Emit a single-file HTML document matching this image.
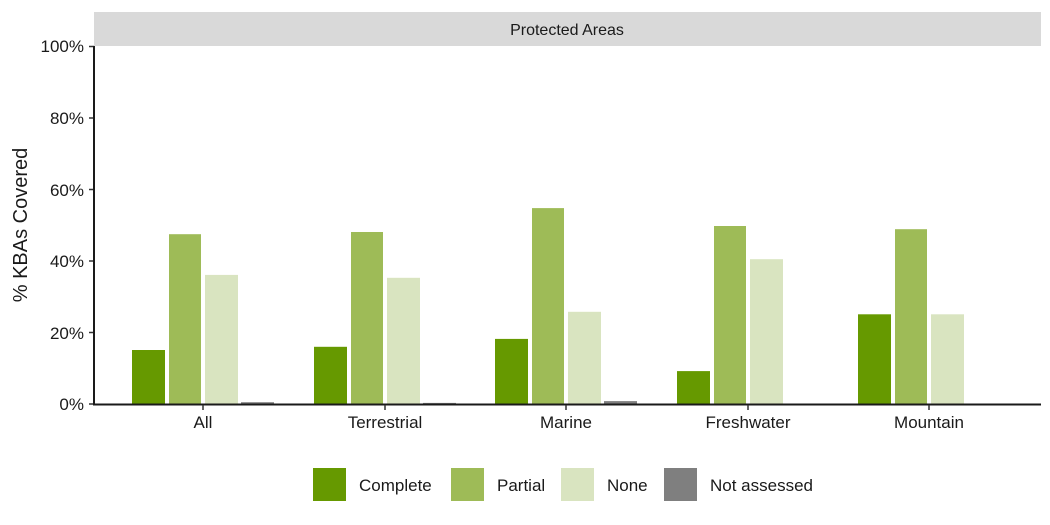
<!DOCTYPE html>
<html><head><meta charset="utf-8"><style>body{margin:0;background:#fff}svg{display:block}text{font-family:"Liberation Sans",Arial,sans-serif;fill:#1a1a1a}</style></head><body>
<svg width="1050" height="525" xmlns="http://www.w3.org/2000/svg">
<rect x="94" y="12" width="947" height="34" fill="#d9d9d9"/>
<text x="567" y="35" font-size="16" text-anchor="middle">Protected Areas</text>
<g font-size="17" text-anchor="end">
<text x="84" y="410">0%</text><text x="84" y="339">20%</text><text x="84" y="267">40%</text><text x="84" y="196">60%</text><text x="84" y="124">80%</text><text x="84" y="52">100%</text>
</g>
<g stroke="#333" stroke-width="1.5">
<line x1="89" x2="94" y1="404" y2="404"/><line x1="89" x2="94" y1="332.5" y2="332.5"/><line x1="89" x2="94" y1="261" y2="261"/><line x1="89" x2="94" y1="189.5" y2="189.5"/><line x1="89" x2="94" y1="118" y2="118"/><line x1="89" x2="94" y1="46.5" y2="46.5"/>
</g>
<text transform="translate(27,225) rotate(-90)" font-size="20" text-anchor="middle">% KBAs Covered</text>
<g>
<rect x="132" y="350" width="33" height="54" fill="#669900"/>
<rect x="169" y="234.2" width="32" height="169.8" fill="#9ebb57"/>
<rect x="205" y="274.9" width="33" height="129.1" fill="#d9e4c0"/>
<rect x="241" y="402.2" width="33" height="1.8" fill="#7f7f7f"/>
<rect x="314" y="346.8" width="33" height="57.2" fill="#669900"/>
<rect x="351" y="232" width="32" height="172" fill="#9ebb57"/>
<rect x="387" y="277.8" width="33" height="126.2" fill="#d9e4c0"/>
<rect x="423" y="402.9" width="33" height="1.1" fill="#7f7f7f"/>
<rect x="495" y="338.9" width="33" height="65.1" fill="#669900"/>
<rect x="532" y="208.1" width="32" height="195.9" fill="#9ebb57"/>
<rect x="568" y="311.8" width="33" height="92.2" fill="#d9e4c0"/>
<rect x="604" y="401.1" width="33" height="2.9" fill="#7f7f7f"/>
<rect x="677" y="371.1" width="33" height="32.9" fill="#669900"/>
<rect x="714" y="226" width="32" height="178" fill="#9ebb57"/>
<rect x="750" y="259.2" width="33" height="144.8" fill="#d9e4c0"/>
<rect x="858" y="314.3" width="33" height="89.7" fill="#669900"/>
<rect x="895" y="229.2" width="32" height="174.8" fill="#9ebb57"/>
<rect x="931" y="314.3" width="33" height="89.7" fill="#d9e4c0"/>
</g>
<line x1="94" x2="94" y1="46" y2="405" stroke="#1a1a1a" stroke-width="2"/>
<line x1="93" x2="1041" y1="404.5" y2="404.5" stroke="#1a1a1a" stroke-width="2"/>
<g font-size="17" text-anchor="middle">
<text x="203" y="428">All</text><text x="385" y="428">Terrestrial</text><text x="566" y="428">Marine</text><text x="748" y="428">Freshwater</text><text x="929" y="428">Mountain</text>
</g>
<g stroke="#333" stroke-width="1.5">
<line x1="203" x2="203" y1="405" y2="410"/><line x1="385" x2="385" y1="405" y2="410"/><line x1="566" x2="566" y1="405" y2="410"/><line x1="748" x2="748" y1="405" y2="410"/><line x1="929" x2="929" y1="405" y2="410"/>
</g>
<g font-size="17">
<rect x="313" y="468" width="33" height="33" fill="#669900"/><text x="359" y="491">Complete</text>
<rect x="451" y="468" width="33" height="33" fill="#9ebb57"/><text x="497" y="491">Partial</text>
<rect x="561" y="468" width="33" height="33" fill="#d9e4c0"/><text x="607" y="491">None</text>
<rect x="664" y="468" width="33" height="33" fill="#7f7f7f"/><text x="710" y="491">Not assessed</text>
</g>
</svg>
</body></html>
